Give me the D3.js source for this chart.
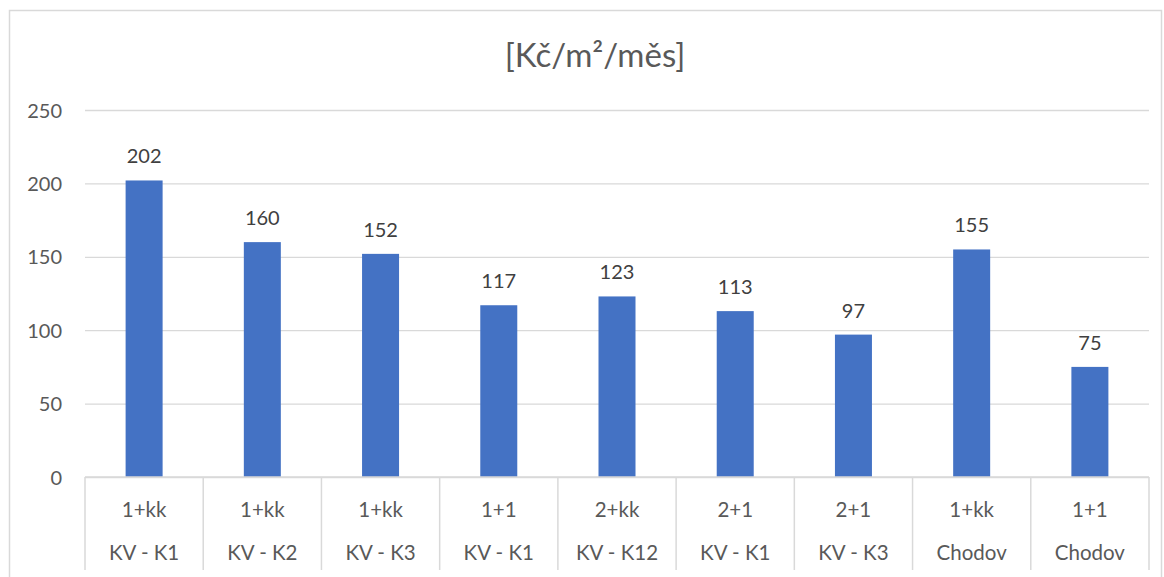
<!DOCTYPE html>
<html><head><meta charset="utf-8">
<script src="https://cdn.jsdelivr.net/npm/d3@7/dist/d3.min.js"></script>
<style>body{margin:0;background:#fff}svg{display:block}text{font-family:Lato,"Open Sans",sans-serif}</style>
</head><body><svg id="c" width="1164" height="577"></svg>
<script>
const types = ["1+kk","1+kk","1+kk","1+1","2+kk","2+1","2+1","1+kk","1+1"];
const places = ["KV - K1","KV - K2","KV - K3","KV - K1","KV - K12","KV - K1","KV - K3","Chodov","Chodov"];
const values = [202,160,152,117,123,113,97,155,75];
const yTicks = [0,50,100,150,200,250];
const title = "[Kč/m²/měs]";

const svg = d3.select("#c");
const L = 85, R = 1149, T = 110, B = 477;
const txt = "#595959", grid = "#D9D9D9";

svg.append("rect").attr("x",9.5).attr("y",10.5).attr("width",1152).attr("height",580)
  .attr("fill","#fff").attr("stroke",grid).attr("stroke-width",1.5);

const idx = d3.range(values.length);
const x = d3.scaleBand().domain(idx).range([L,R]).padding(0);
const y = d3.scaleLinear().domain([0,250]).range([B,T]);

svg.append("text").attr("x",595).attr("y",67).attr("text-anchor","middle")
  .attr("font-size",33).attr("fill",txt).text(title);

const ya = svg.append("g").attr("transform",`translate(${L},0)`)
  .call(d3.axisLeft(y).tickValues(yTicks).tickSize(-(R-L)).tickPadding(23));
ya.select(".domain").remove();
ya.selectAll(".tick line").attr("stroke",grid).attr("stroke-width",1.3);
ya.selectAll(".tick text").attr("fill",txt).attr("font-size",20).attr("font-family","Lato").attr("dy","0.35em");

const bw = 37;
svg.append("g").selectAll("rect").data(idx).join("rect")
  .attr("x",i=>x(i)+x.bandwidth()/2-bw/2).attr("width",bw)
  .attr("y",i=>y(values[i])).attr("height",i=>y(0)-y(values[i]))
  .attr("fill","#4472C4");

svg.append("g").selectAll("text").data(idx).join("text")
  .attr("x",i=>x(i)+x.bandwidth()/2).attr("y",i=>y(values[i])-17)
  .attr("text-anchor","middle").attr("font-size",20).attr("fill","#404040")
  .text(i=>values[i]);

// category axis
const xa = svg.append("g").attr("transform",`translate(0,${B})`);
xa.append("line").attr("x1",L).attr("x2",R).attr("stroke",grid).attr("stroke-width",1.5);
const seps = idx.map(i=>x(i)).concat([R]);
xa.selectAll("line.sep").data(seps).join("line").attr("class","sep")
  .attr("x1",d=>d).attr("x2",d=>d).attr("y1",0).attr("y2",93)
  .attr("stroke",grid).attr("stroke-width",1.5);
xa.selectAll("text.t").data(idx).join("text").attr("class","t")
  .attr("x",i=>x(i)+x.bandwidth()/2).attr("y",40).attr("text-anchor","middle")
  .attr("font-size",20.5).attr("fill",txt).text(i=>types[i]);
xa.selectAll("text.p").data(idx).join("text").attr("class","p")
  .attr("x",i=>x(i)+x.bandwidth()/2).attr("y",83).attr("text-anchor","middle")
  .attr("font-size",20.5).attr("fill",txt).text(i=>places[i]);
</script></body></html>
